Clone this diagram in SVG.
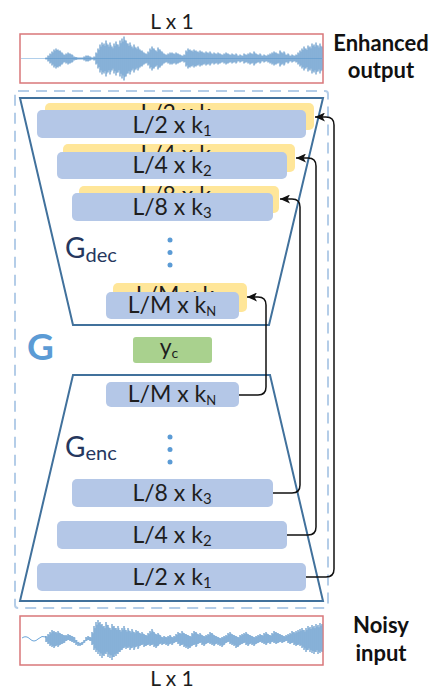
<svg xmlns="http://www.w3.org/2000/svg" xmlns:xlink="http://www.w3.org/1999/xlink" width="433" height="691" viewBox="0 0 433 691">
<style>
.bx{fill:#b4c7e7}
.yb{fill:#ffe699}
.bt{font-family:Lato,"Liberation Sans",sans-serif;font-size:23px;fill:#1e1e1e;text-anchor:middle}
.sub{font-size:15px}
.subn{font-size:13px}
.trap{fill:none;stroke:#41719c;stroke-width:2;stroke-linejoin:miter}
.gl{font-family:Lato,"Liberation Sans",sans-serif;font-size:28px;fill:#26375e}
.lab{font-family:Lato,"Liberation Sans",sans-serif;font-size:21px;fill:#1e1e1e;text-anchor:middle}
.side{font-family:Lato,"Liberation Sans",sans-serif;font-size:22px;font-weight:bold;fill:#111;text-anchor:middle}
.wbox{fill:#fff;stroke:#d9777a;stroke-width:1.5}
.wave{fill:none;stroke:#2e75b6;stroke-width:0.9}
.wlight{fill:none;stroke:#8fbbe3;stroke-width:0.9}
.conn{fill:none;stroke:#111;stroke-width:1.5}
.dot{fill:#5b9bd5}
</style>
<defs>
<marker id="ah" markerUnits="userSpaceOnUse" markerWidth="10" markerHeight="9" refX="10" refY="4.5" orient="auto">
<path d="M0,0 L10,4.5 L0,9 L2.5,4.5 z" fill="#111"/>
</marker>
<clipPath id="cTop"><rect x="20.5" y="34.5" width="302" height="48"/></clipPath>
<clipPath id="cBot"><rect x="20.5" y="616.5" width="302" height="48"/></clipPath>
<clipPath id="cy1"><rect x="40" y="95" width="280" height="15"/></clipPath>
<clipPath id="cy2"><rect x="40" y="140" width="280" height="12"/></clipPath>
<clipPath id="cy3"><rect x="40" y="180" width="280" height="13"/></clipPath>
<clipPath id="cyN"><rect x="100" y="278" width="160" height="14"/></clipPath>
<path id="wTop" d="M46,-1V1M48,-3V3M50,-5V5M52,-7V7M54,-9V9M56,-10V10M58,-9V9M60,-8V8M62,-6V6M64,-4V4M66,-5V5M68,-6V6M70,-5V5M72,-4V4M74,-2V2M76,-1.5V1.5M78,-1V1M80,-1V1M82,-1V1M84,-2V2M86,-3V3M88,-3V3M90,-2V2M92,-1V1M94,-2V2M96,-6V6M98,-10V10M100,-14V14M102,-16V16M104,-15V15M106,-18V18M108,-14V14M110,-16V16M112,-12V12M114,-15V15M116,-17V17M118,-14V14M120,-18V18M122,-20V20M124,-22V22M126,-18V18M128,-15V15M130,-16V16M132,-12V12M134,-14V14M136,-11V11M138,-12V12M140,-9V9M142,-8V8M144,-6V6M146,-5V5M148,-7V7M150,-10V10M152,-12V12M154,-10V10M156,-8V8M158,-11V11M160,-9V9M162,-7V7M164,-5V5M166,-4V4M168,-5V5M170,-6V6M172,-6V6M174,-5V5M176,-6V6M178,-5V5M180,-4V4M182,-3V3M184,-4V4M186,-8V8M188,-10V10M190,-9V9M192,-8V8M194,-9V9M196,-8V8M198,-7V7M200,-8V8M202,-7V7M204,-6V6M206,-7V7M208,-6V6M210,-7V7M212,-5V5M214,-6V6M216,-5V5M218,-6V6M220,-5V5M222,-4V4M224,-5V5M226,-6V6M228,-5V5M230,-4V4M232,-5V5M234,-4V4M236,-5V5M238,-3V3M240,-4V4M242,-3V3M244,-5V5M246,-4V4M248,-5V5M250,-6V6M252,-5V5M254,-7V7M256,-5V5M258,-4V4M260,-5V5M262,-3V3M264,-4V4M266,-3V3M268,-4V4M270,-5V5M272,-6V6M274,-7V7M276,-6V6M278,-5V5M280,-8V8M282,-6V6M284,-7V7M286,-4V4M288,-5V5M290,-3V3M292,-4V4M294,-3V3M296,-4V4M298,-6V6M300,-8V8M302,-10V10M304,-12V12M306,-10V10M308,-13V13M310,-12V12M312,-15V15M314,-14V14M316,-16V16M318,-13V13M320,-15V15M322,-12V12"/>
<path id="wBot" d="M46,-4V2M48,-6V4M50,-8V6M52,-10V7M54,-9V8M56,-8V6M58,-9V7M60,-7V5M62,-6V4M64,-5V3M66,-5V1M68,-6V0M70,-5V1M72,-4V2M74,-3V3M76,0V5M78,2V6M80,3V6M82,2V5M84,0V3M86,-3V1M88,-4V0M90,-3V1M92,-8V5M94,-14V10M96,-18V12M98,-20V14M100,-18V16M102,-16V18M104,-14V16M106,-18V14M108,-15V17M110,-12V18M112,-16V20M114,-14V17M116,-12V16M118,-14V14M120,-10V12M122,-12V10M124,-14V8M126,-10V9M128,-12V8M130,-9V10M132,-11V8M134,-8V10M136,-10V7M138,-9V9M140,-7V6M142,-8V5M144,-6V7M146,-5V6M148,-7V5M150,-9V6M152,-11V5M154,-8V7M156,-6V8M158,-7V6M160,-5V4M162,-3V5M164,-4V4M166,-3V5M168,-4V6M170,-5V4M172,-3V5M174,-4V3M176,-6V2M178,-8V4M180,-7V6M182,-9V5M184,-7V7M186,-6V8M188,-5V9M190,-4V8M192,-7V6M194,-9V5M196,-8V7M198,-6V4M200,-7V3M202,-5V5M204,-4V6M206,-5V4M208,-6V3M210,-8V4M212,-7V5M214,-5V6M216,-4V4M218,-3V5M220,-2V6M222,-3V7M224,-4V5M226,-5V3M228,-7V2M230,-8V4M232,-6V5M234,-5V6M236,-4V8M238,-3V7M240,-5V5M242,-6V4M244,-7V3M246,-8V5M248,-6V6M250,-5V4M252,-4V5M254,-3V6M256,-4V4M258,-5V3M260,-6V2M262,-5V3M264,-7V4M266,-8V5M268,-6V3M270,-5V4M272,-7V2M274,-9V3M276,-8V4M278,-7V3M280,-6V2M282,-5V3M284,-4V2M286,-5V1M288,-6V3M290,-7V4M292,-9V3M294,-8V5M296,-9V6M298,-10V5M300,-11V6M302,-12V8M304,-10V10M306,-12V12M308,-14V10M310,-13V12M312,-15V13M314,-14V14M316,-16V12M318,-15V14M320,-17V13M322,-16V12"/>
</defs>
<rect width="433" height="691" fill="#fff"/>

<g id="output-wave">
<text class="lab" x="172" y="29">L x 1</text>
<rect class="wbox" x="20" y="34" width="303" height="49"/>
<g clip-path="url(#cTop)">
<g transform="translate(0,58.5)">
<path d="M21,0H323" stroke="#9dc3e6" stroke-width="0.8" fill="none"/>
<use xlink:href="#wTop" class="wlight" transform="translate(1,0) scale(1,0.85)"/>
<use xlink:href="#wTop" class="wave"/>
</g>
</g>
</g>
<g id="label-enhanced">
<text class="side" x="381" y="51">Enhanced</text>
<text class="side" x="381" y="78">output</text>
</g>

<g id="G">
<rect x="15" y="91" width="313" height="517" rx="3" fill="none" stroke="#b4cde8" stroke-width="2" stroke-dasharray="11,7"/>
<text x="27" y="360" font-family="Lato,'Liberation Sans',sans-serif" font-size="37" font-weight="bold" fill="#5b9bd5">G</text>
</g>

<g id="G-dec">
<polygon class="trap" points="20,98 323,98 269,325 73,325"/>
<text class="gl" x="65" y="258">G<tspan font-size="20" dy="4">dec</tspan></text>
<circle class="dot" cx="170" cy="240" r="2.5"/>
<circle class="dot" cx="170" cy="252.5" r="2.5"/>
<circle class="dot" cx="170" cy="265" r="2.5"/>
</g>
<g id="dec1">
<rect class="yb" x="45" y="103" width="269" height="27" rx="5"/>
<text class="bt" x="180" y="121" clip-path="url(#cy1)">L/2 x k<tspan class="sub" dy="3">1</tspan></text>
<rect class="bx" x="37" y="110" width="269" height="28" rx="5"/>
<text class="bt" x="172" y="133">L/2 x k<tspan class="sub" dy="3">1</tspan></text>
</g>
<g id="dec2">
<rect class="yb" x="63" y="144" width="232" height="28" rx="5"/>
<text class="bt" x="180" y="162" clip-path="url(#cy2)">L/4 x k<tspan class="sub" dy="3">2</tspan></text>
<rect class="bx" x="57" y="152" width="230" height="27" rx="5"/>
<text class="bt" x="172" y="173">L/4 x k<tspan class="sub" dy="3">2</tspan></text>
</g>
<g id="dec3">
<rect class="yb" x="79" y="186" width="200" height="27" rx="5"/>
<text class="bt" x="180" y="203" clip-path="url(#cy3)">L/8 x k<tspan class="sub" dy="3">3</tspan></text>
<rect class="bx" x="72" y="193" width="201" height="28" rx="5"/>
<text class="bt" x="172" y="215">L/8 x k<tspan class="sub" dy="3">3</tspan></text>
</g>
<g id="decN">
<rect class="yb" x="113" y="283" width="134" height="29" rx="5"/>
<text class="bt" x="180" y="303" clip-path="url(#cyN)">L/M x k<tspan class="subn" dy="3">N</tspan></text>
<rect class="bx" x="106" y="292" width="133" height="27" rx="5"/>
<text class="bt" x="172" y="313">L/M x k<tspan class="subn" dy="3">N</tspan></text>
</g>

<g id="yc">
<rect x="133" y="337" width="79" height="26" rx="3" fill="#a9d18e"/>
<text class="bt" x="169" y="355" font-size="21">y<tspan font-size="14" dy="3">c</tspan></text>
</g>

<g id="G-enc">
<polygon class="trap" points="73,375 270,375 323,601 20,601"/>
<text class="gl" x="65" y="457">G<tspan font-size="20" dy="3">enc</tspan></text>
<circle class="dot" cx="170" cy="437" r="2.5"/>
<circle class="dot" cx="170" cy="449.5" r="2.5"/>
<circle class="dot" cx="170" cy="462" r="2.5"/>
</g>
<g id="encN">
<rect class="bx" x="106" y="382" width="133" height="25" rx="5"/>
<text class="bt" x="172" y="402">L/M x k<tspan class="subn" dy="3">N</tspan></text>
</g>
<g id="enc3">
<rect class="bx" x="72" y="479" width="201" height="28" rx="5"/>
<text class="bt" x="172" y="501">L/8 x k<tspan class="sub" dy="3">3</tspan></text>
</g>
<g id="enc2">
<rect class="bx" x="57" y="521" width="230" height="28" rx="5"/>
<text class="bt" x="172" y="543">L/4 x k<tspan class="sub" dy="3">2</tspan></text>
</g>
<g id="enc1">
<rect class="bx" x="37" y="563" width="269" height="28" rx="5"/>
<text class="bt" x="172" y="585">L/2 x k<tspan class="sub" dy="3">1</tspan></text>
</g>

<g id="connectors">
<path class="conn" marker-end="url(#ah)" d="M239,395H258Q266,395 266,387V305Q266,297 258,297H247"/>
<path class="conn" marker-end="url(#ah)" d="M273,493H292Q300,493 300,485V207Q300,199 292,199H280"/>
<path class="conn" marker-end="url(#ah)" d="M287,535H308Q316,535 316,527V166Q316,158 308,158H296"/>
<path class="conn" marker-end="url(#ah)" d="M306,577H326Q334,577 334,569V125Q334,117 326,117H315"/>
</g>

<g id="input-wave">
<rect class="wbox" x="20" y="616" width="303" height="49"/>
<g clip-path="url(#cBot)">
<g transform="translate(0,640)">
<path d="M22,-2Q26,-5 30,-1T38,-1T46,-3" stroke="#5b9bd5" stroke-width="0.9" fill="none"/>
<use xlink:href="#wBot" class="wlight" transform="translate(1,0) scale(1,0.85)"/>
<use xlink:href="#wBot" class="wave"/>
</g>
</g>
<text class="lab" x="172" y="686">L x 1</text>
</g>
<g id="label-noisy">
<text class="side" x="381" y="633">Noisy</text>
<text class="side" x="381" y="661">input</text>
</g>
</svg>
